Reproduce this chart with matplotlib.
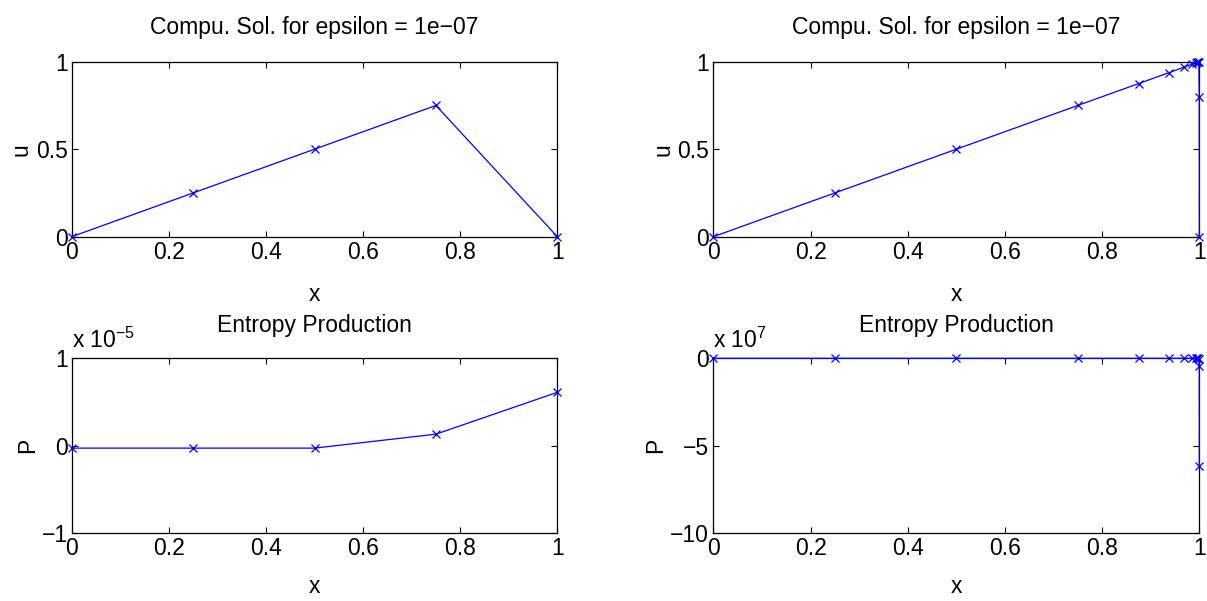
import matplotlib
matplotlib.use("Agg")
import matplotlib.pyplot as plt

plt.rcParams['font.family'] = ['Liberation Sans', 'DejaVu Sans']
plt.rcParams['font.size'] = 16.5

# left column: coarse mesh
x_left = [0.0, 0.25, 0.5, 0.75, 1.0]
u_left = [0.0, 0.25, 0.5, 0.75, 0.0]
p_left = [-0.03e-5, -0.03e-5, -0.03e-5, 0.13e-5, 0.61e-5]

# right column: mesh refined toward x = 1
x_right = [0.0, 0.25, 0.5, 0.75, 0.875, 0.9375, 0.96875, 0.984375,
           0.9921875, 0.99609375, 0.998046875, 0.9990234375, 0.9999, 1.0]
u_right = [0.0, 0.25, 0.5, 0.75, 0.875, 0.9375, 0.96875, 0.984375,
           0.9921875, 0.99609375, 0.998046875, 0.9990234375, 0.8, 0.0]
p_right = [0.0, 0.0, 0.0, 0.0, 0.0, 0.0, 0.0, 0.0,
           0.0, 0.0, 0.0, -0.05e7, -0.42e7, -6.2e7]

x_ticks = [0, 0.2, 0.4, 0.6, 0.8, 1]
x_tick_labels = ['0', '0.2', '0.4', '0.6', '0.8', '1']
title_top = 'Compu. Sol. for epsilon = 1e\u221207'
title_bot = 'Entropy Production'

W, H = 1207, 601
fig = plt.figure(figsize=(W / 100, H / 100), dpi=100)

def make_ax(left, top, right, bottom):
    ax = fig.add_axes([left / W, 1 - bottom / H, (right - left) / W, (bottom - top) / H])
    ax.tick_params(direction='in', top=True, right=True, length=4, width=0.8, pad=3)
    for s in ax.spines.values():
        s.set_linewidth(0.9)
    return ax

def style(ax, line_x, line_y):
    ax.plot(line_x, line_y, color='#0000ff', lw=0.9, marker='x', ms=6,
            mew=0.9, clip_on=False, zorder=3)
    ax.set_xlim(0, 1)
    ax.set_xticks(x_ticks)
    ax.set_xticklabels(x_tick_labels)

# top-left
ax1 = make_ax(71.7, 61.7, 557.3, 236.7)
style(ax1, x_left, u_left)
ax1.set_ylim(0, 1)
ax1.set_yticks([0, 0.5, 1])
ax1.set_yticklabels(['0', '0.5', '1'])
ax1.set_title(title_top, fontsize=16.5, pad=20)
ax1.set_xlabel('x', labelpad=14)
ax1.set_ylabel('u', labelpad=2)

# top-right
ax2 = make_ax(713.3, 61.7, 1199.3, 236.7)
style(ax2, x_right, u_right)
ax2.set_ylim(0, 1)
ax2.set_yticks([0, 0.5, 1])
ax2.set_yticklabels(['0', '0.5', '1'])
ax2.set_title(title_top, fontsize=16.5, pad=20)
ax2.set_xlabel('x', labelpad=14)
ax2.set_ylabel('u', labelpad=2)

# bottom-left, scaled by 1e-5
ax3 = make_ax(71.7, 358.3, 557.3, 532.7)
style(ax3, x_left, [v / 1e-5 for v in p_left])
ax3.set_ylim(-1, 1)
ax3.set_yticks([-1, 0, 1])
ax3.set_yticklabels(['\u22121', '0', '1'])
ax3.set_title(title_bot, fontsize=16.5, pad=19)
ax3.set_xlabel('x', labelpad=11)
ax3.set_ylabel('P', labelpad=2)
ax3.text(0.0, 1.03, 'x 10$^{\\mathregular{\u22125}}$', transform=ax3.transAxes,
         ha='left', va='bottom', fontsize=16.5)

# bottom-right, scaled by 1e7
ax4 = make_ax(713.3, 358.3, 1199.3, 532.7)
style(ax4, x_right, [v / 1e7 for v in p_right])
ax4.set_ylim(-10, 0)
ax4.set_yticks([-10, -5, 0])
ax4.set_yticklabels(['\u221210', '\u22125', '0'])
ax4.set_title(title_bot, fontsize=16.5, pad=19)
ax4.set_xlabel('x', labelpad=11)
ax4.set_ylabel('P', labelpad=2)
ax4.text(0.0, 1.03, 'x 10$^{\\mathregular{7}}$', transform=ax4.transAxes,
         ha='left', va='bottom', fontsize=16.5)

fig.savefig('out.png', dpi=100)
